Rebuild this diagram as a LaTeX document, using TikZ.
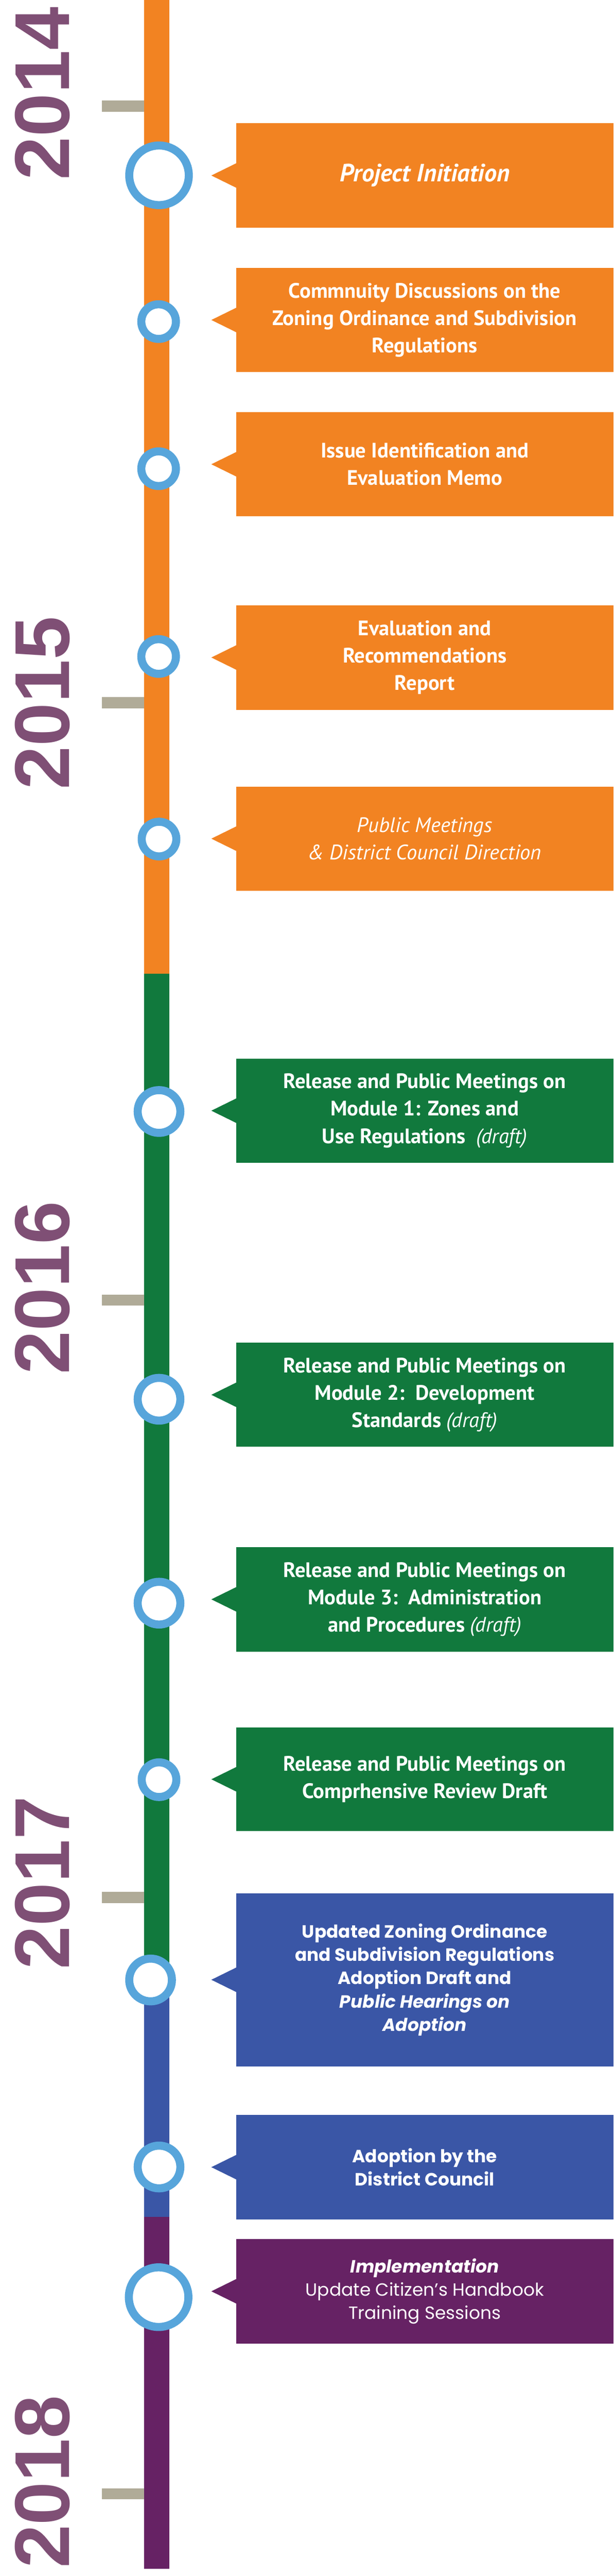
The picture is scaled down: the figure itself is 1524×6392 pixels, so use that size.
\documentclass[tikz,border=0pt]{standalone}
\usepackage{fontspec}
\setmainfont{PT Sans}
\newfontfamily\popfont{Poppins}
\newfontfamily\yearfont{Liberation Sans}
\definecolor{cor}{HTML}{F28322}
\definecolor{cgr}{HTML}{11793D}
\definecolor{cbl}{HTML}{3A56A6}
\definecolor{cpu}{HTML}{662264}
\definecolor{cci}{HTML}{57A5DB}
\definecolor{ctk}{HTML}{B0AB98}
\definecolor{cyr}{HTML}{7F4F75}
\tikzset{
  ev/.style={draw=cci, line width=20pt, fill=white, circle, inner sep=0pt},
  bigev/.style={ev, minimum size=148pt},
  midev/.style={ev, minimum size=106pt},
  smlev/.style={ev, minimum size=86pt},
  yr/.style={rotate=90, text=cyr, font=\yearfont\bfseries\fontsize{193}{193}\selectfont, inner sep=0pt},
  tick/.style={fill=ctk, draw=none},
  lbl/.style={text=white, align=center, font=\bfseries\fontsize{52}{68}\selectfont},
  plbl/.style={text=white, align=center, font=\popfont\bfseries\fontsize{44}{58}\selectfont},
}
% box: #1 colour, #2 top, #3 bottom, #4 name
\newcommand{\tlbox}[4]{%
  \fill[#1] (587,#2) rectangle (1524,#3);
  \fill[#1] (588,{(#2+#3)/2-31}) -- (525,{(#2+#3)/2}) -- (588,{(#2+#3)/2+31}) -- cycle;
  \coordinate (#4) at (1055,{(#2+#3)/2});
}
\begin{document}
\begin{tikzpicture}[x=1pt,y=-1pt]
\useasboundingbox (0,0) rectangle (1524,6392);
% bar
\fill[cor] (358,0) rectangle (420,2416);
\fill[cgr] (358,2416) rectangle (420,4870);
\fill[cbl] (358,4870) rectangle (420,5501);
\fill[cpu] (358,5501) rectangle (420,6374);
% ticks
\foreach \t in {263,1744,3226,4708,6188} \fill[tick] (253,\t-14) rectangle (358,\t+14);
% years
\node[yr] (y14) at (106,232) {2014};
\node[yr] (y15) at (106,1744) {2015};
\node[yr] (y16) at (106,3195) {2016};
\node[yr] (y17) at (106,4672) {2017};
\node[yr] (y18) at (106,6158) {2018};
% boxes
\tlbox{cor}{306}{565}{b1}
\tlbox{cor}{665}{923}{b2}
\tlbox{cor}{1023}{1281}{b3}
\tlbox{cor}{1502}{1761}{b4}
\tlbox{cor}{1952}{2210}{b5}
\tlbox{cgr}{2627}{2885}{b6}
\tlbox{cgr}{3332}{3590}{b7}
\tlbox{cgr}{3839}{4098}{b8}
\tlbox{cgr}{4286}{4544}{b9}
\tlbox{cbl}{4698}{5127}{b10}
\tlbox{cbl}{5248}{5507}{b11}
\tlbox{cpu}{5556}{5815}{b12}
\node[lbl] at (b1) {\itshape\fontsize{62}{70}\selectfont Project Initiation};
\node[lbl] at (b2) {Commnuity Discussions on the\\Zoning Ordinance and Subdivision\\Regulations};
\node[lbl] at (b3) {Issue Identification and\\Evaluation Memo};
\node[lbl] at (b4) {Evaluation and\\Recommendations\\Report};
\node[lbl,font=\mdseries\itshape\fontsize{52}{68}\selectfont] at (b5) {Public Meetings\\\& District Council Direction};
\node[lbl] at (b6) {Release and Public Meetings on\\Module 1: Zones and\\Use Regulations\ \ {\mdseries\itshape(draft)}};
\node[lbl] at (b7) {Release and Public Meetings on\\Module 2:\ \ Development\\Standards {\mdseries\itshape(draft)}};
\node[lbl] at (b8) {Release and Public Meetings on\\Module 3:\ \ Administration\\and Procedures {\mdseries\itshape(draft)}};
\node[lbl] at (b9) {Release and Public Meetings on\\Comprhensive Review Draft};
\node[plbl] at (b10) {Updated Zoning Ordinance\\and Subdivision Regulations\\Adoption Draft and\\{\itshape Public Hearings on}\\{\itshape Adoption}};
\node[plbl] at (b11) {Adoption by the\\District Council};
\node[plbl] at (b12) {{\itshape Implementation}\\{\mdseries Update Citizen’s Handbook}\\{\mdseries Training Sessions}};
% events
\node[bigev] (e1) at (395,435) {};
\node[smlev] (e2) at (394,798) {};
\node[smlev] (e3) at (394,1163) {};
\node[smlev] (e4) at (394,1629) {};
\node[smlev] (e5) at (395,2082) {};
\node[midev] (e6) at (395,2758) {};
\node[midev] (e7) at (395,3472) {};
\node[midev] (e8) at (395,3978) {};
\node[smlev] (e9) at (395,4416) {};
\node[midev] (e10) at (374,4913) {};
\node[midev] (e11) at (395,5377) {};
\node[bigev] (e12) at (394,5700) {};
\end{tikzpicture}
\end{document}
